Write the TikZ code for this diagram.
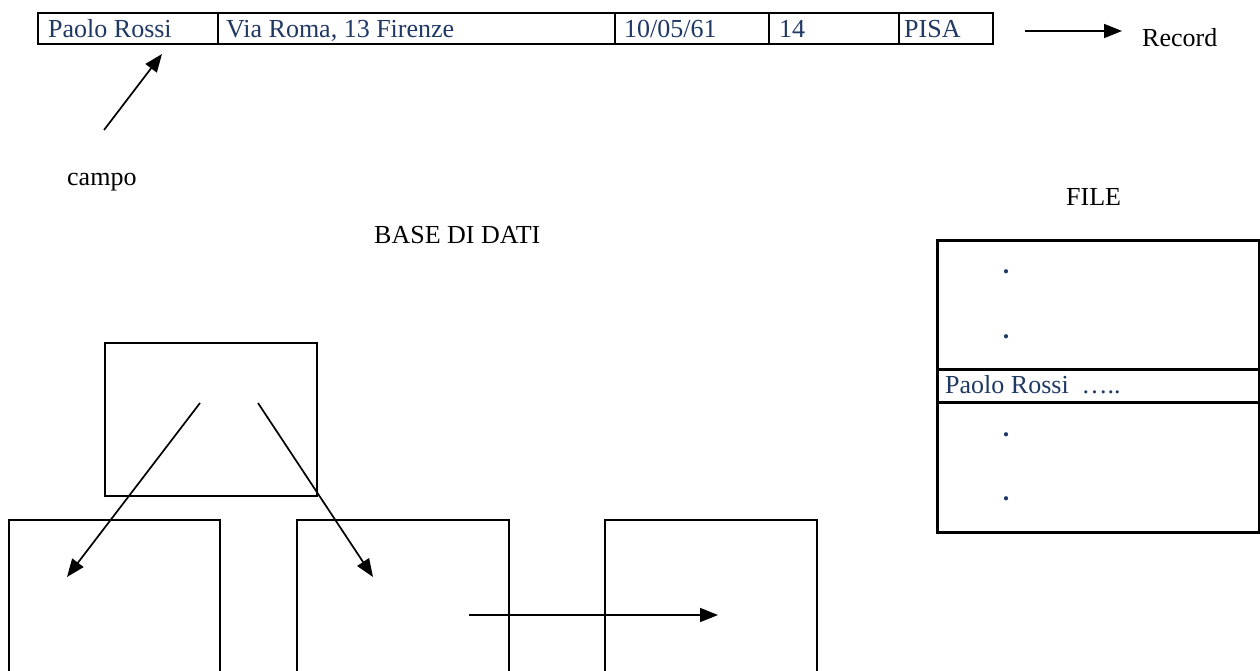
\documentclass[tikz,border=0pt]{standalone}
\usepackage{fontspec}
\setmainfont{Liberation Serif}
\usetikzlibrary{arrows.meta}
\definecolor{dblue}{RGB}{31,56,100}
\begin{document}
\begin{tikzpicture}[x=1pt,y=-1pt,
  txt/.style={font=\fontsize{26}{30}\selectfont, inner sep=0pt, anchor=base west},
  btxt/.style={txt, text=dblue},
  dotmark/.style={font=\fontsize{26}{30}\selectfont\bfseries, inner sep=0pt, anchor=base, text=dblue},
  cell/.style={draw, line width=2pt, inner sep=0pt, anchor=north west},
  fbox/.style={draw, line width=2.5pt, inner sep=0pt, anchor=north west, minimum width=322pt},
  dbox/.style={draw, line width=1.7pt, inner sep=0pt, anchor=north west},
  arr/.style={line width=1.7pt, -{Triangle[length=18pt,width=14pt]}}]
\clip (0,0) rectangle (1260,670);
% record table
\node[cell, minimum width=180pt, minimum height=31pt] (c1) at (37,12) {};
\node[cell, minimum width=397pt, minimum height=31pt] (c2) at (217,12) {};
\node[cell, minimum width=154pt, minimum height=31pt] (c3) at (614,12) {};
\node[cell, minimum width=130pt, minimum height=31pt] (c4) at (768,12) {};
\node[cell, minimum width=94pt, minimum height=31pt] (c5) at (898,12) {};
\node[btxt] (t1) at (48,37) {Paolo Rossi};
\node[btxt] (t2) at (226,37) {Via Roma, 13 Firenze};
\node[btxt] (t3) at (624,37) {10/05/61};
\node[btxt] (t4) at (779,37) {14};
\node[btxt] (t5) at (904,37) {PISA};
% record label
\coordinate (ra) at (1025,31);
\coordinate (rb) at (1122,31);
\draw[arr] (ra) -- (rb);
\node[txt] (rec) at (1142,46) {Record};
% campo
\coordinate (ca) at (104,130);
\coordinate (cb) at (162,54);
\draw[arr] (ca) -- (cb);
\node[txt] (campo) at (67,185) {campo};
% titles
\node[txt] (file) at (1066,205) {FILE};
\node[txt] (base) at (374,243) {BASE DI DATI};
% file box
\node[fbox, minimum height=129pt] (f1) at (936,239) {};
\node[fbox, minimum height=33pt] (f2) at (936,368) {};
\node[fbox, minimum height=130pt] (f3) at (936,401) {};
\node[dotmark] (d1) at (1006,273) {.};
\node[dotmark] (d2) at (1006,338) {.};
\node[btxt] (fr) at (945,393) {Paolo Rossi\ \ …..};
\node[dotmark] (d3) at (1006,436) {.};
\node[dotmark] (d4) at (1006,500) {.};
% database boxes
\node[dbox, minimum width=212pt, minimum height=153pt] (top) at (104,342) {};
\node[dbox, minimum width=211pt, minimum height=200pt] (bl) at (8,519) {};
\node[dbox, minimum width=212pt, minimum height=200pt] (bm) at (296,519) {};
\node[dbox, minimum width=212pt, minimum height=200pt] (br) at (604,519) {};
\coordinate (s1) at (200,403);
\coordinate (e1) at (67,577);
\coordinate (s2) at (258,403);
\coordinate (e2) at (373,577);
\coordinate (s3) at (469,615);
\coordinate (e3) at (718,615);
\draw[arr] (s1) -- (e1);
\draw[arr] (s2) -- (e2);
\draw[arr] (s3) -- (e3);
\end{tikzpicture}
\end{document}
